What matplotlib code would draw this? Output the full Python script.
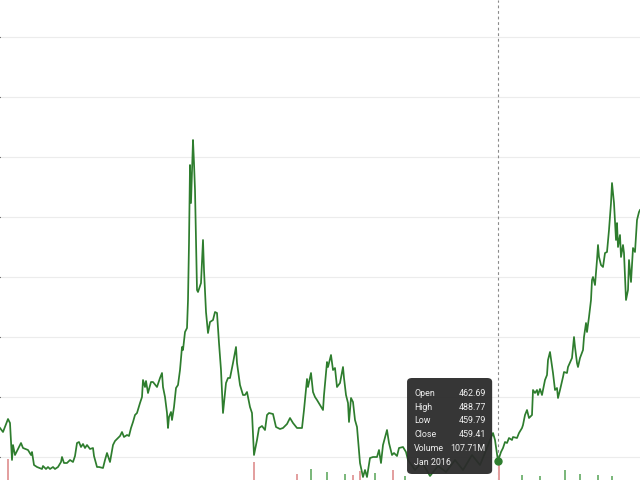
import matplotlib.pyplot as plt
from matplotlib.patches import FancyBboxPatch

# time index (weeks from start) and close price
t = [0, 3, 8, 10, 12, 13, 15, 17, 21, 23, 28, 31, 32, 34, 37, 42, 43, 46, 48, 50,
     53, 55, 58, 61, 62, 64, 67, 70, 73, 75, 77, 79, 81, 83, 85, 87, 90, 93, 94, 97,
     99, 103, 105, 107, 110, 113, 115, 117, 120, 122, 124, 127, 129, 131, 133, 135, 137, 140, 142, 143,
     145, 146, 148, 151, 153, 157, 160, 162, 163, 165, 167, 168, 169, 171, 172, 174, 176, 178, 180, 182,
     183, 185, 187, 188, 189, 190, 191, 192, 193, 194, 195, 197, 198, 201, 203, 204, 206, 208, 210, 213,
     215, 217, 219, 221, 223, 226, 228, 230, 233, 236, 237, 240, 243, 245, 247, 250, 252, 254, 257, 259,
     262, 265, 267, 269, 273, 276, 280, 283, 287, 290, 293, 297, 302, 304, 307, 308, 311, 313, 315, 317,
     320, 323, 324, 327, 328, 331, 333, 335, 337, 340, 343, 344, 346, 348, 349, 351, 353, 355, 357, 360,
     363, 365, 367, 370, 373, 377, 379, 381, 383, 387, 389, 392, 394, 397, 399, 403, 406, 408, 415, 422,
     430, 438, 446, 455, 463, 472, 480, 487, 490, 493, 495, 498, 501, 503, 505, 507, 509, 512, 513, 517,
     519, 522, 523, 525, 527, 529, 532, 533, 535, 537, 538, 540, 542, 543, 545, 547, 548, 550, 553, 555,
     557, 558, 560, 563, 564, 567, 568, 572, 574, 575, 577, 578, 580, 583, 584, 586, 587, 589, 591, 592,
     593, 595, 597, 598, 599, 601, 603, 605, 607, 609, 611, 612, 614, 616, 617, 618, 620, 621, 623, 624,
     626, 628, 629, 631, 633, 635, 637, 639, 640]
close = [524, 516, 542, 534, 460, 490, 470, 478, 494, 484, 480, 470, 476, 450, 446, 442, 448, 442, 446, 442,
         446, 442, 446, 456, 466, 454, 454, 460, 456, 468, 494, 496, 486, 492, 484, 490, 482, 484, 468, 446,
         446, 444, 460, 474, 456, 490, 498, 502, 508, 516, 506, 510, 508, 524, 536, 550, 554, 574, 586, 620,
         606, 618, 594, 616, 616, 606, 624, 634, 606, 586, 554, 524, 546, 556, 540, 566, 604, 610, 640, 686,
         680, 716, 724, 780, 894, 1050, 974, 1034, 1100, 1054, 1000, 800, 796, 814, 900, 840, 756, 714, 736, 740,
         756, 754, 694, 640, 554, 614, 624, 624, 654, 686, 654, 610, 590, 590, 596, 566, 554, 470, 500, 524,
         528, 520, 550, 554, 552, 526, 522, 524, 532, 544, 534, 524, 524, 560, 622, 606, 634, 596, 586, 580,
         570, 560, 590, 656, 646, 670, 640, 644, 606, 614, 646, 624, 590, 574, 536, 584, 576, 540, 526, 454,
         426, 440, 426, 464, 466, 466, 480, 454, 490, 520, 494, 470, 474, 468, 484, 486, 476, 460, 440, 456,
         428, 448, 436, 460, 440, 470, 450, 484, 500, 514, 500, 458, 476, 484, 496, 494, 504, 500, 506, 504,
         514, 524, 530, 550, 560, 544, 550, 600, 594, 600, 590, 602, 590, 600, 620, 630, 660, 676, 634, 600,
         604, 584, 600, 626, 636, 634, 646, 664, 706, 686, 654, 646, 664, 680, 706, 734, 716, 746, 780, 820,
         826, 810, 860, 890, 866, 850, 846, 874, 876, 920, 974, 1014, 974, 900, 934, 886, 910, 866, 890, 874,
         780, 800, 860, 816, 884, 876, 940, 956, 960]

# volume (millions) for the bars that show at the bottom edge
vol_t = [8, 254, 297, 311, 327, 345, 353, 360, 375, 393, 405, 499, 522, 540, 565, 580, 598, 612]
vol = [151, 130, 43, 79, 58, 43, 36, 65, 50, 72, 29, 108, 36, 29, 72, 43, 36, 29]
vol_up = [False, False, False, True, True, True, False, False, True, False, True, False, True, True, True, True,
          True, True]

# hovered month
hover_t = 498
hover_close = 458
hover_rows = [("Open", "462.69"), ("High", "488.77"), ("Low", "459.79"),
              ("Close", "459.41"), ("Volume", "107.71M")]
hover_label = "Jan 2016"

line_color = '#2e7d2e'

fig = plt.figure(figsize=(6.4, 4.8), dpi=100)
ax = fig.add_axes([0, 0, 1, 1])
ax.set_xlim(0, 640)
ax.set_ylim(420, 1380)
ax.set_yticks([467 + 120 * k for k in range(8)])
ax.grid(True, axis='y', color='#ececec', lw=0.8)
ax.set_axisbelow(True)
for s in ax.spines.values():
    s.set_visible(False)
ax.tick_params(left=False, bottom=False, labelleft=False, labelbottom=False)

ax2 = ax.twinx()
ax2.set_ylim(0, 3456)
ax2.axis('off')
bar_colors = ['#7cb87c' if u else '#e3a0a0' for u in vol_up]
ax2.bar(vol_t, vol, width=1.1, color=bar_colors, zorder=1)

ax.plot(t, close, color=line_color, lw=1.25, zorder=3)
ax.axvline(hover_t, color='#8a8a8a', lw=0.8, ls=(0, (2.5, 2.5)), zorder=2)

ax3 = fig.add_axes([0, 0, 1, 1], sharex=ax, sharey=ax)
ax3.axis('off')
ax3.plot([hover_t], [hover_close], 'o', color=line_color, ms=5, zorder=5)

box = FancyBboxPatch((0.636, 0.0125), 0.133, 0.2, boxstyle='round,pad=0,rounding_size=0.008',
                     transform=ax3.transAxes, facecolor='#2b2b2b', edgecolor='none', alpha=0.95, zorder=6)
ax3.add_patch(box)
row_y = [0.181, 0.152, 0.123, 0.094, 0.065]
for (name, val), yy in zip(hover_rows, row_y):
    ax3.text(0.647, yy, name, transform=ax3.transAxes, color='#f0f0f0', fontsize=6.4,
             family='Roboto', va='center', ha='left', zorder=7)
    ax3.text(0.759, yy, val, transform=ax3.transAxes, color='#f0f0f0', fontsize=6.4,
             family='Roboto', va='center', ha='right', zorder=7)
ax3.text(0.647, 0.036, hover_label, transform=ax3.transAxes, color='#f0f0f0', fontsize=6.4,
         family='Roboto', va='center', ha='left', zorder=7)

fig.savefig('out.png', dpi=100)
